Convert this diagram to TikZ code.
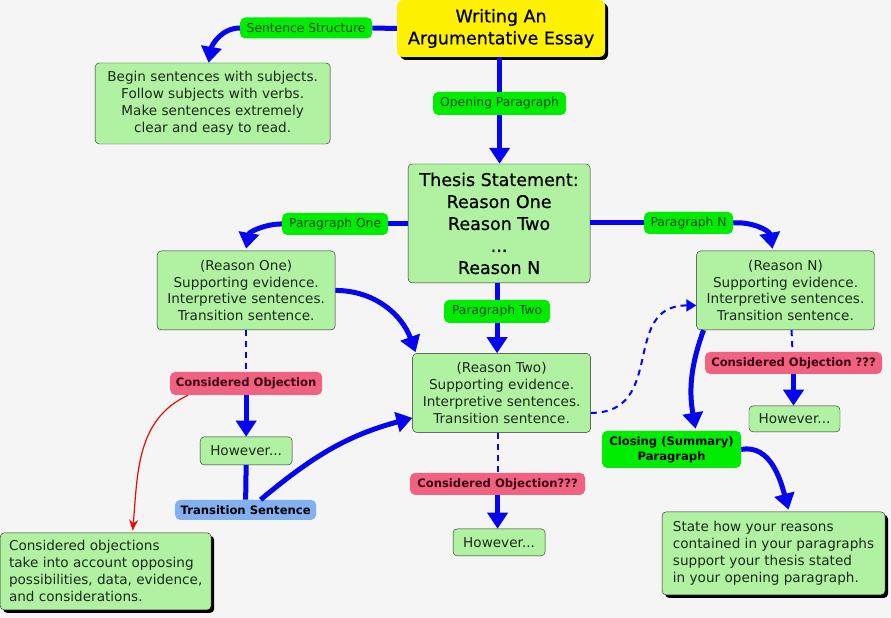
\documentclass[tikz,border=0pt]{standalone}
\usepackage{fontspec}
\setmainfont{DejaVu Sans}
\newfontfamily\heavyfont[FakeBold=0.7]{DejaVu Sans}
\usetikzlibrary{arrows.meta,shadows}
\definecolor{bg}{RGB}{245,245,245}
\definecolor{boxgreen}{RGB}{176,242,162}
\definecolor{boxtext}{RGB}{30,40,30}
\definecolor{labgreen}{RGB}{0,236,0}
\definecolor{labtext}{RGB}{15,70,15}
\definecolor{objpink}{RGB}{240,98,128}
\definecolor{objtext}{RGB}{60,0,20}
\definecolor{transblue}{RGB}{130,176,240}
\definecolor{linkblue}{RGB}{5,5,240}
\definecolor{notered}{RGB}{230,10,10}
\tikzstyle{box}=[draw=black!85, rounded corners=4pt, fill=boxgreen, text=boxtext, align=center, inner sep=2pt, font=\fontsize{13.6}{17}\selectfont]
\tikzstyle{shadowbox}=[box, align=left, drop shadow={shadow xshift=3pt, shadow yshift=-3pt, fill=black, opacity=1}]
\tikzstyle{title}=[rounded corners=6pt, fill=yellow, align=center, font=\heavyfont\fontsize{17.5}{22}\selectfont, drop shadow={shadow xshift=3pt, shadow yshift=-3pt, fill=black, opacity=1}]
\tikzstyle{lab}=[rounded corners=5pt, fill=labgreen, text=labtext, inner sep=1pt, font=\fontsize{12.3}{14}\selectfont]
\tikzstyle{objlab}=[lab, fill=objpink, text=objtext, font=\bfseries\fontsize{11.6}{14}\selectfont]
\tikzstyle{link}=[draw=linkblue, line width=5pt]
\tikzstyle{arr}=[link, -{Triangle[width=20pt,length=16pt]}]
\tikzstyle{dotlink}=[draw=linkblue, line width=2pt, dash pattern=on 6pt off 5pt]
\newcommand{\lab}{\node[lab]}
\newcommand{\reason}{\node[box, minimum width=178pt, minimum height=79pt]}

\begin{document}
\begin{tikzpicture}[x=1pt,y=-1pt]
\fill[bg] (0,0) rectangle (891,618);
% top of the map
\node[title, minimum width=208pt, minimum height=57pt] (essay) at (501,28.5) {Writing An\\Argumentative Essay};
\lab[minimum width=132pt, minimum height=21pt] (structure) at (306,28) {Sentence Structure};
\node[box, minimum width=235pt, minimum height=81pt] (begin) at (212.5,103.5) {Begin sentences with subjects.\\Follow subjects with verbs.\\Make sentences extremely\\clear and easy to read.};
\lab[minimum width=133pt, minimum height=23pt] (opening) at (499.5,103.5) {Opening Paragraph};
\node[box, minimum width=182pt, minimum height=119pt, font=\heavyfont\fontsize{17.5}{22}\selectfont, text=black] (thesis) at (499,223.5) {Thesis Statement:\\Reason One\\Reason Two\\...\\Reason N};
% the three paragraphs
\lab[minimum width=106pt, minimum height=22pt] (pone) at (335,224) {Paragraph One};
\lab[minimum width=89pt, minimum height=22pt] (pn) at (688.5,223) {Paragraph N};
\lab[minimum width=106pt, minimum height=23pt] (ptwo) at (497,311.5) {Paragraph Two};
\reason (rone) at (246,290.5) {(Reason One)\\Supporting evidence.\\Interpretive sentences.\\Transition sentence.};
\reason (rn) at (785.5,290.5) {(Reason N)\\Supporting evidence.\\Interpretive sentences.\\Transition sentence.};
\reason (rtwo) at (501.5,393) {(Reason Two)\\Supporting evidence.\\Interpretive sentences.\\Transition sentence.};
% objections
\node[objlab, minimum width=152pt, minimum height=23pt] (objone) at (246,383.5) {Considered Objection};
\node[objlab, minimum width=175pt, minimum height=22pt] (objtwo) at (497.5,484) {Considered Objection???};
\node[objlab, minimum width=177pt, minimum height=22pt] (objn) at (793.5,363) {Considered Objection ???};
\node[box, minimum width=92pt, minimum height=28pt] (howone) at (246,451) {However...};
\node[box, minimum width=92pt, minimum height=27pt] (howtwo) at (499,542.5) {However...};
\node[box, minimum width=91pt, minimum height=26pt] (hown) at (794.5,419) {However...};
\node[objlab, fill=transblue, text=black, minimum width=141pt, minimum height=20pt] (trans) at (245.5,510) {Transition Sentence};
\node[shadowbox, minimum width=211pt, minimum height=77pt] (note) at (105.5,571.5) {Considered objections\\take into account opposing\\possibilities, data, evidence,\\and considerations.};
% closing
\node[objlab, fill=labgreen, text=black, align=center, minimum width=139pt, minimum height=37pt, font=\bfseries\fontsize{11.6}{15}\selectfont] (closing) at (671.5,449.5) {Closing (Summary)\\Paragraph};
\node[shadowbox, minimum width=223pt, minimum height=83pt] (summary) at (773.5,553.5) {State how your reasons\\contained in your paragraphs\\support your thesis stated\\in your opening paragraph.};

\draw[link] (essay.west) -- (structure.east);
\draw[arr] (structure.west) to[out=180,in=80] ([xshift=-4pt]begin.north);
\draw[link] (essay.south -| opening.north) -- (opening.north);
\draw[arr] (opening.south) -- (thesis.north -| opening.south);
\draw[link] (thesis.west |- pone) -- (pone.east);
\draw[arr] (pone.west) to[out=180,in=80] ([yshift=2pt]rone.north);
\draw[link] (thesis.east |- pn) -- (pn.west);
\draw[arr] (pn.east) to[out=5,in=100] ([xshift=-13pt,yshift=2pt]rn.north);
\draw[link] (thesis.south -| ptwo.north) -- (ptwo.north);
\draw[arr] (ptwo.south) -- (rtwo.north -| ptwo.south);
\draw[arr] (rone.east) to[out=0,in=110] ([xshift=-86pt,yshift=1pt]rtwo.north);
\draw[dotlink] (rone.south) -- (objone.north);
\draw[arr] (objone.south) -- (howone.north);
\draw[link] (howone.south) -- (trans.north);
\draw[arr] ([xshift=15pt]trans.north) to[out=40,in=195] ([yshift=-25pt]rtwo.west);
\draw[notered, line width=1.2pt, -{Stealth[length=11pt,width=9pt]}] ([xshift=-58pt]objone.south) to[out=205,in=85] ([xshift=27pt,yshift=2pt]note.north);
\draw[dotlink, -{Triangle[width=12pt,length=10pt]}] ([yshift=-20pt]rtwo.east) to[out=0,in=180,looseness=1.3] ([yshift=-15pt]rn.west);
\draw[dotlink] (rtwo.south -| objtwo.north) -- (objtwo.north);
\draw[arr] (objtwo.south) -- (howtwo.north -| objtwo.south);
\draw[dotlink] ([xshift=6pt]rn.south) -- ([xshift=-1pt]objn.north);
\draw[arr] (objn.south) -- (hown.north -| objn.south);
\draw[arr] ([xshift=-82pt]rn.south) to[out=250,in=100] ([xshift=24pt,yshift=2pt]closing.north);
\draw[arr] (closing.east) to[out=10,in=105] ([xshift=15pt,yshift=2pt]summary.north);
\end{tikzpicture}
\end{document}
